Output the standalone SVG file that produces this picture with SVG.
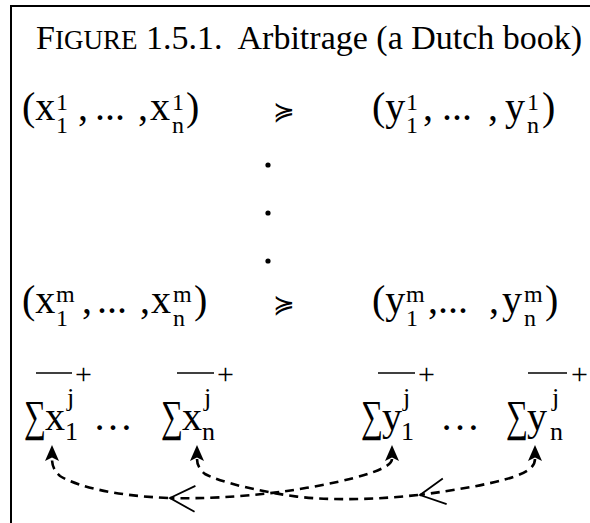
<svg xmlns="http://www.w3.org/2000/svg" width="590" height="523" viewBox="0 0 590 523">
<style>
.t{font-family:"Liberation Serif","Times New Roman",serif;fill:#000}
.m{font-size:40px}
.s{font-size:24px}
.ss{font-size:26px}
.sg{font-size:44px}
.pl{font-size:30px}
.rel{font-family:"DejaVu Serif","DejaVu Sans",serif;font-size:26px;fill:#000}
.ov{stroke:#000;stroke-width:1.3}
.con{fill:none;stroke:#000;stroke-width:2.6;stroke-dasharray:9 6}
.frame{stroke:#000;stroke-width:2;fill:none}
</style>
<defs>
<marker id="ah" markerUnits="userSpaceOnUse" markerWidth="18" markerHeight="16" refX="2" refY="7" orient="auto-start-reverse" overflow="visible">
<path d="M0,0 L16,7 L0,14 L3.5,7 Z" fill="#000" stroke="none"/>
</marker>
<marker id="chev" markerUnits="userSpaceOnUse" markerWidth="28" markerHeight="28" refX="25" refY="13" orient="auto" overflow="visible">
<path d="M0,0 L25,13 L0,26" fill="none" stroke="#000" stroke-width="1.8"/>
</marker>
</defs>
<rect width="590" height="523" fill="#fff"/>
<path class="frame" d="M11,523 L11,6 L590,6"/>
<g id="title"><text class="t" x="36" y="49" font-size="34" xml:space="preserve">F<tspan font-size="27">IGURE</tspan> 1.5.1.  Arbitrage (a Dutch book)</text></g>

<g id="row1-x">
<text class="t m" x="22" y="120">(x</text>
<text class="t s" x="56" y="110">1</text>
<text class="t s" x="56" y="133">1</text>
<text class="t m" x="78" y="120">,</text>
<text class="t m" x="95" y="120">...</text>
<text class="t m" x="138" y="120">,</text>
<text class="t m" x="150" y="120">x</text>
<text class="t s" x="172" y="110">1</text>
<text class="t s" x="172" y="133">n</text>
<text class="t m" x="186" y="120">)</text>
</g>
<g id="row1-rel"><text class="rel" x="284" y="120" text-anchor="middle">≽</text></g>
<g id="row1-y">
<text class="t m" x="372" y="120">(y</text>
<text class="t s" x="406" y="110">1</text>
<text class="t s" x="406" y="133">1</text>
<text class="t m" x="423" y="120">,</text>
<text class="t m" x="442" y="120">...</text>
<text class="t m" x="488" y="120">,</text>
<text class="t m" x="505" y="120">y</text>
<text class="t s" x="527" y="110">1</text>
<text class="t s" x="527" y="133">n</text>
<text class="t m" x="542" y="120">)</text>
</g>

<g id="vdots">
<circle cx="268" cy="165" r="2.6"/>
<circle cx="268" cy="213" r="2.6"/>
<circle cx="268" cy="261" r="2.6"/>
</g>

<g id="rowm-x">
<text class="t m" x="22" y="313">(x</text>
<text class="t s" x="56" y="302">m</text>
<text class="t s" x="56" y="326">1</text>
<text class="t m" x="82" y="313">,</text>
<text class="t m" x="97" y="313">...</text>
<text class="t m" x="140" y="313">,</text>
<text class="t m" x="151" y="313">x</text>
<text class="t s" x="173" y="302">m</text>
<text class="t s" x="173" y="326">n</text>
<text class="t m" x="194" y="313">)</text>
</g>
<g id="rowm-rel"><text class="rel" x="284" y="313" text-anchor="middle">≽</text></g>
<g id="rowm-y">
<text class="t m" x="372" y="313">(y</text>
<text class="t s" x="406" y="302">m</text>
<text class="t s" x="406" y="326">1</text>
<text class="t m" x="428" y="313">,...</text>
<text class="t m" x="489" y="313">,</text>
<text class="t m" x="502" y="313">y</text>
<text class="t s" x="524" y="302">m</text>
<text class="t s" x="524" y="326">n</text>
<text class="t m" x="545" y="313">)</text>
</g>

<g id="sum-x1">
<line class="ov" x1="36" y1="373" x2="72" y2="373"/>
<text class="t pl" x="75" y="384">+</text>
<text class="t sg" x="24" y="431" textLength="22" lengthAdjust="spacingAndGlyphs">∑</text>
<text class="t m" x="45" y="430">x</text>
<text class="t ss" x="67" y="406">j</text>
<text class="t ss" x="65" y="440">1</text>
</g>
<text class="t m" x="93" y="430">…</text>
<g id="sum-xn">
<line class="ov" x1="177" y1="373" x2="214" y2="373"/>
<text class="t pl" x="217" y="384">+</text>
<text class="t sg" x="161" y="431" textLength="22" lengthAdjust="spacingAndGlyphs">∑</text>
<text class="t m" x="182" y="430">x</text>
<text class="t ss" x="204" y="406">j</text>
<text class="t ss" x="202" y="440">n</text>
</g>
<g id="sum-y1">
<line class="ov" x1="378" y1="373" x2="415" y2="373"/>
<text class="t pl" x="418" y="384">+</text>
<text class="t sg" x="361" y="431" textLength="22" lengthAdjust="spacingAndGlyphs">∑</text>
<text class="t m" x="382" y="430">y</text>
<text class="t ss" x="403" y="406">j</text>
<text class="t ss" x="401" y="440">1</text>
</g>
<text class="t m" x="440" y="430">…</text>
<g id="sum-yn">
<line class="ov" x1="528" y1="373" x2="567" y2="373"/>
<text class="t pl" x="571" y="384">+</text>
<text class="t sg" x="506" y="431" textLength="22" lengthAdjust="spacingAndGlyphs">∑</text>
<text class="t m" x="527" y="430">y</text>
<text class="t ss" x="552" y="406">j</text>
<text class="t ss" x="550" y="440">n</text>
</g>

<g id="connectors">
<path class="con" marker-start="url(#ah)" marker-end="url(#chev)" d="M392,459 C392,472 330,485 280,492 C240,497 200,499 170,498"/>
<path class="con" marker-end="url(#ah)" d="M168,498 C120,496 80,488 60,476 C54,471 52,465 52,459"/>
<path class="con" marker-start="url(#ah)" marker-end="url(#chev)" d="M535,459 C535,468 525,475 495,482 C470,488 440,492 420,495"/>
<path class="con" marker-end="url(#ah)" d="M418,495 C380,499 340,501 300,497 C260,492 220,482 205,474 C199,469 197,464 197,459"/>
</g>
</svg>
